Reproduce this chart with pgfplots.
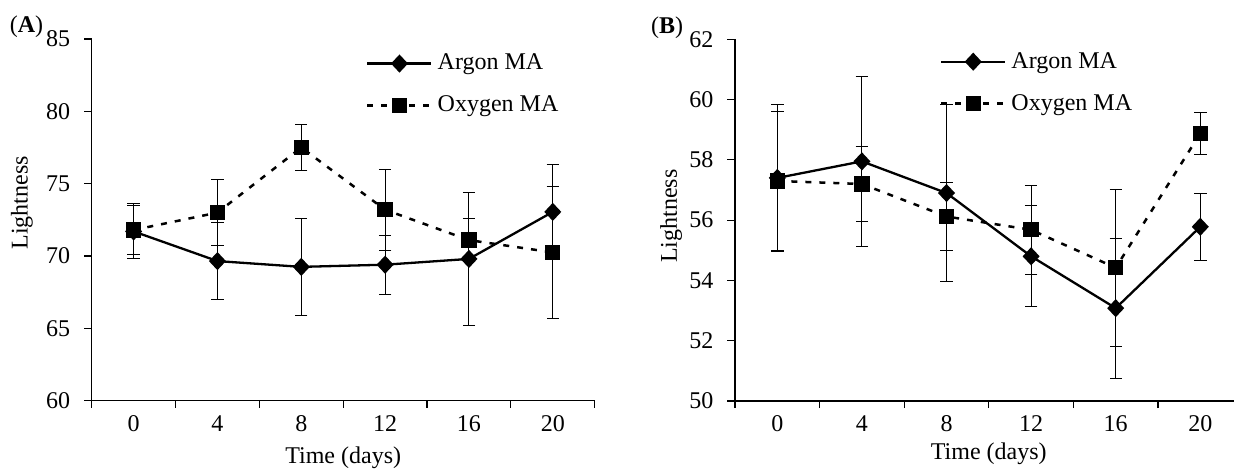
\documentclass[border=0pt]{standalone}
\usepackage{fontspec}
\setmainfont{Liberation Serif}
\usepackage{pgfplots}
\usepackage{pgfplotstable}
\pgfplotsset{compat=1.18}

\newcommand{\chartfont}{\fontsize{12pt}{14pt}\selectfont}

% lightness, panel A
\pgfplotstableread{
x y e
0 71.7 1.9
1 69.65 2.65
2 69.25 3.35
3 69.4 2.05
4 69.8 4.6
5 73.05 3.25
}\argonA
\pgfplotstableread{
x y e
0 71.8 1.7
1 73.0 2.3
2 77.5 1.6
3 73.2 2.8
4 71.1 1.5
5 70.25 4.55
}\oxygenA
% lightness, panel B
\pgfplotstableread{
x y e
0 57.4 2.45
1 57.95 2.83
2 56.9 2.95
3 54.8 1.67
4 53.08 2.32
5 55.78 1.12
}\argonB
\pgfplotstableread{
x y e
0 57.3 2.3
1 57.2 1.23
2 56.12 1.13
3 55.68 1.47
4 54.42 2.61
5 58.88 0.7
}\oxygenB

\pgfplotsset{
  panel/.style={
    scale only axis,
    anchor=south west,
    height=180.85pt,
    xmin=-0.5, xmax=5.5,
    axis x line=bottom,
    axis y line=left,
    axis line style={-, line width=0.6pt},
    tick align=outside,
    tick style={black, line width=0.6pt},
    major tick length=3.8pt,
    minor tick length=3.5pt,
    xtick={0,...,5},
    xticklabels={0,4,8,12,16,20},
    major x tick style={draw=none},
    minor xtick={-0.5,0.5,...,5.5},
    /pgf/number format/assume math mode=true,
    tick label style={font=\chartfont},
    yticklabel style={xshift=-3.5pt},
    label style={font=\chartfont},
    xlabel={Time (days)},
    ylabel={Lightness},
    clip=false,
    legend cell align=left,
    legend style={draw=none, fill=none, font=\chartfont, anchor=north west,
      row sep=10.5pt, column sep=2pt, inner sep=0pt, nodes={inner sep=0.5pt}},
    legend image code/.code={
      \draw[mark repeat=2,mark phase=2,##1] plot coordinates {(0pt,0pt) (16pt,0pt) (32pt,0pt)};
    },
  },
  argon/.style={black, solid, line width=1.15pt, mark=diamond*,
    mark options={solid, xscale=1.25, mark size=3.7pt},
    error bars/.cd, y dir=both, y explicit,
    error bar style={solid, line width=0.5pt, black},
    error mark options={solid, rotate=90, mark size=3.1pt, line width=0.5pt, black}},
  oxygen/.style={black, dash pattern=on 3pt off 4pt, line width=1.25pt, mark=square*,
    mark options={solid, mark size=3.2pt},
    error bars/.cd, y dir=both, y explicit,
    error bar style={solid, line width=0.5pt, black},
    error mark options={solid, rotate=90, mark size=3.1pt, line width=0.5pt, black}},
}

\begin{document}
\begin{tikzpicture}[font=\chartfont]
\useasboundingbox (0,0) rectangle (617pt,235.5pt);
\clip (0,0) rectangle (617pt,235.5pt);

\begin{axis}[panel,
  at={(45.85pt,35.15pt)},
  width=251.5pt,
  ymin=60, ymax=85, ytick={60,65,...,85},
  xlabel style={at={(axis description cs:0.5,-0.158)}, anchor=center},
  ylabel style={at={(axis description cs:-0.1386,0.547)}, anchor=center},
  legend style={at={(rel axis cs:0.545,0.962)}},
]
\addplot[argon] table[x=x, y=y, y error=e] {\argonA};
\addplot[oxygen] table[x=x, y=y, y error=e] {\oxygenA};
\legend{Argon MA, Oxygen MA}
\end{axis}

\begin{axis}[panel,
  at={(367.5pt,35pt)},
  width=253.8pt,
  ymin=50, ymax=62, ytick={50,52,...,62},
  xlabel style={at={(axis description cs:0.5,-0.145)}, anchor=center},
  ylabel style={at={(axis description cs:-0.126,0.511)}, anchor=center},
  legend style={at={(rel axis cs:0.403,0.968)}},
]
\addplot[argon] table[x=x, y=y, y error=e] {\argonB};
\addplot[oxygen] table[x=x, y=y, y error=e] {\oxygenB};
\legend{Argon MA, Oxygen MA}
\end{axis}

\node[anchor=center] at (13.25pt,222pt) {(\textbf{A})};
\node[anchor=center] at (333.5pt,221.5pt) {(\textbf{B})};
\end{tikzpicture}
\end{document}
